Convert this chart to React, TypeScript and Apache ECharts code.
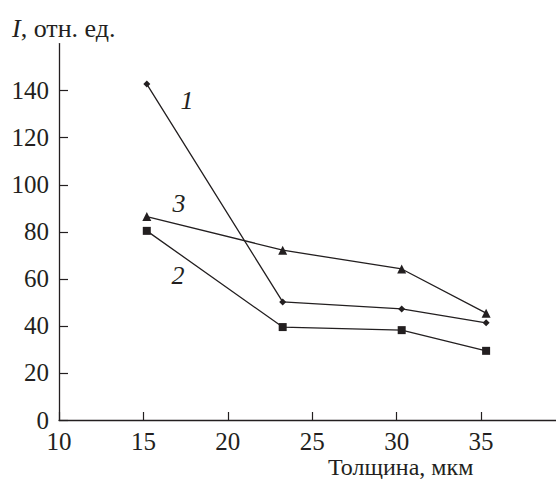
import React, { useEffect, useRef } from "react";
import * as echarts from "echarts";

const thickness = [15.2, 23.25, 30.3, 35.3];
const series1 = [142.8, 50.2, 47.2, 41.3];
const series2 = [80.4, 39.5, 38.2, 29.4];
const series3 = [86.5, 72.2, 64.2, 45.4];
const xTicks = [10, 15, 20, 25, 30, 35];
const yTicks = [0, 20, 40, 60, 80, 100, 120, 140];
const yTitle = "отн. ед.";
const xTitle = "Толщина, мкм";

const INK = "#231f20";
const FONT = "Liberation Serif";
const TICK_FS = 25;
const TITLE_FS = 26;

export default function App() {
  const ref = useRef<HTMLDivElement>(null);
  useEffect(() => {
    document.body.style.margin = "0";
    const chart = echarts.init(ref.current!, null, { renderer: "svg" });
    const mk = (ys: number[], symbol: string, size: number) => ({
      type: "line",
      data: thickness.map((x, i) => [x, ys[i]]),
      symbol,
      symbolSize: size,
      showSymbol: true,
      lineStyle: { color: INK, width: 1.3 },
      itemStyle: { color: INK },
      z: 3,
    });
    const txt = (text: string, x: number, y: number, italic: boolean, align = "center", fs = TITLE_FS) => ({
      type: "text",
      x,
      y,
      style: italic
        ? { text, fill: INK, fontFamily: FONT, fontSize: fs, fontStyle: "italic", verticalAlign: "middle", align }
        : { text, fill: INK, fontFamily: FONT, fontSize: fs, verticalAlign: "middle", align },
    });
    chart.setOption({
      animation: false,
      backgroundColor: "#fff",
      textStyle: { fontFamily: FONT },
      grid: { left: 59, right: 0, top: 43.6, bottom: 59, containLabel: false },
      xAxis: {
        type: "value",
        min: 10,
        max: 39.44,
        interval: 5,
        splitLine: { show: false },
        axisLine: { lineStyle: { color: INK, width: 1.3 } },
        axisTick: { inside: true, length: 8, customValues: xTicks, lineStyle: { color: INK, width: 1.2 } },
        axisLabel: {
          customValues: xTicks,
          margin: 9,
          color: INK,
          fontFamily: FONT,
          fontSize: TICK_FS,
        },
      },
      yAxis: {
        type: "value",
        min: 0,
        max: 160,
        interval: 20,
        splitLine: { show: false },
        axisLine: { show: true, lineStyle: { color: INK, width: 1.3 } },
        axisTick: { show: true, inside: true, length: 9, customValues: yTicks, lineStyle: { color: INK, width: 1.2 } },
        axisLabel: {
          customValues: yTicks,
          margin: 10,
          color: INK,
          fontFamily: FONT,
          fontSize: TICK_FS,
        },
      },
      series: [
        mk(series1, "diamond", 7),
        mk(series2, "rect", 8),
        mk(series3, "triangle", 9),
      ],
      graphic: [
        {
          type: "text",
          x: 12,
          y: 28,
          style: {
            text: "{i|I}{n|, " + yTitle + "}",
            fill: INK,
            fontFamily: FONT,
            fontSize: TITLE_FS,
            verticalAlign: "middle",
            align: "left",
            rich: {
              i: { fontStyle: "italic", fontFamily: FONT, fontSize: TITLE_FS, fill: INK },
              n: { fontFamily: FONT, fontSize: TITLE_FS, fill: INK },
            },
          },
        },
        txt(xTitle, 328, 467, false, "left", 24),
        txt("1", 187, 100, true),
        txt("3", 179, 203, true),
        txt("2", 178, 275, true),
      ],
    });
    return () => chart.dispose();
  }, []);
  return <div ref={ref} style={{ width: 556, height: 479 }} />;
}
